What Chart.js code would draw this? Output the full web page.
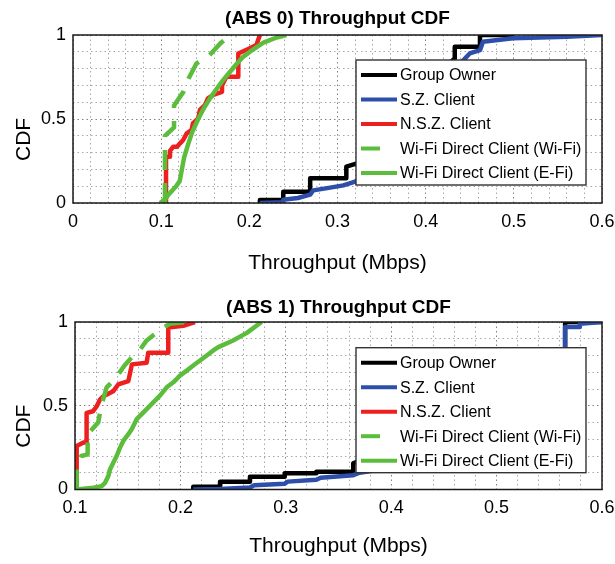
<!DOCTYPE html>
<html><head><meta charset="utf-8">
<script src="https://cdn.jsdelivr.net/npm/chart.js@4.4.1/dist/chart.umd.min.js"></script>
<style>
html,body{margin:0;padding:0;background:#fff;width:615px;height:564px;overflow:hidden}
.panel{position:absolute;left:0;width:615px;height:282px}
</style></head><body>
<div class="panel" style="top:0"><canvas id="c0" width="615" height="282"></canvas></div>
<div class="panel" style="top:282px"><canvas id="c1" width="615" height="282"></canvas></div>
<script>
// ---------- text ----------
const seriesNames = ['Group Owner', 'S.Z. Client', 'N.S.Z. Client', 'Wi-Fi Direct Client (Wi-Fi)', 'Wi-Fi Direct Client (E-Fi)'];
const chartTitles = ['(ABS 0) Throughput CDF', '(ABS 1) Throughput CDF'];
const xAxisLabel = 'Throughput (Mbps)';
const yAxisLabel = 'CDF';
const xTickLabels0 = [0, 0.1, 0.2, 0.3, 0.4, 0.5, 0.6];
const xTickLabels1 = [0.1, 0.2, 0.3, 0.4, 0.5, 0.6];
const yTickLabels = [0, 0.5, 1];

// ---------- ABS 0 data (throughput Mbps, CDF) ----------
const abs0OwnerX = [0.212, 0.212, 0.2385, 0.2385, 0.269, 0.269, 0.310, 0.310, 0.325, 0.340, 0.360, 0.380, 0.400, 0.420, 0.433, 0.433, 0.4616, 0.4616, 0.500];
const abs0OwnerY = [0.000, 0.018, 0.018, 0.067, 0.067, 0.147, 0.147, 0.216, 0.240, 0.330, 0.450, 0.580, 0.700, 0.800, 0.860, 0.930, 0.930, 1.000, 1.000];
const abs0SZX = [0.212, 0.2385, 0.2385, 0.255, 0.269, 0.2725, 0.290, 0.3066, 0.320, 0.340, 0.370, 0.400, 0.420, 0.4446, 0.450, 0.4616, 0.465, 0.499, 0.560, 0.600];
const abs0SZY = [0.000, 0.005, 0.020, 0.030, 0.050, 0.075, 0.090, 0.105, 0.127, 0.200, 0.350, 0.550, 0.720, 0.860, 0.890, 0.910, 0.960, 0.980, 0.990, 1.000];
const abs0NSZX = [0.1055, 0.1055, 0.110, 0.110, 0.1138, 0.118, 0.1214, 0.125, 0.129, 0.1346, 0.136, 0.142, 0.144, 0.1497, 0.153, 0.159, 0.169, 0.169, 0.174, 0.1875, 0.1875, 0.200, 0.208, 0.212];
const abs0NSZY = [0.000, 0.276, 0.276, 0.310, 0.335, 0.335, 0.355, 0.375, 0.415, 0.435, 0.474, 0.504, 0.554, 0.583, 0.623, 0.643, 0.662, 0.700, 0.752, 0.752, 0.890, 0.920, 0.940, 1.000];
const abs0WiFiX = [0.1043, 0.1043, 0.1146, 0.1146, 0.125, 0.128, 0.131, 0.140, 0.148, 0.155, 0.167, 0.172, 0.178, 0.185];
const abs0WiFiY = [0.000, 0.400, 0.450, 0.580, 0.660, 0.700, 0.740, 0.830, 0.860, 0.880, 0.950, 0.970, 0.990, 1.000];
const abs0EFiX = [0.0987, 0.104, 0.110, 0.117, 0.121, 0.1235, 0.126, 0.130, 0.135, 0.142, 0.148, 0.155, 0.163, 0.170, 0.178, 0.186, 0.193, 0.2045, 0.216, 0.231, 0.242];
const abs0EFiY = [0.000, 0.020, 0.060, 0.100, 0.130, 0.200, 0.270, 0.340, 0.420, 0.500, 0.560, 0.620, 0.680, 0.730, 0.780, 0.830, 0.870, 0.915, 0.955, 0.985, 1.000];

// ---------- ABS 1 data ----------
const abs1OwnerX = [0.2122, 0.2122, 0.2376, 0.2376, 0.266, 0.266, 0.299, 0.299, 0.329, 0.329, 0.364, 0.364, 0.380, 0.420, 0.460, 0.500, 0.540, 0.560, 0.565, 0.565, 0.600];
const abs1OwnerY = [0.000, 0.017, 0.017, 0.047, 0.047, 0.076, 0.076, 0.097, 0.097, 0.106, 0.106, 0.156, 0.200, 0.300, 0.420, 0.550, 0.700, 0.800, 0.840, 1.000, 1.000];
const abs1SZX = [0.2122, 0.2376, 0.266, 0.270, 0.299, 0.302, 0.329, 0.333, 0.364, 0.370, 0.385, 0.420, 0.460, 0.500, 0.540, 0.560, 0.565, 0.565, 0.579, 0.579, 0.600];
const abs1SZY = [0.000, 0.003, 0.012, 0.025, 0.035, 0.047, 0.058, 0.070, 0.085, 0.100, 0.115, 0.200, 0.320, 0.450, 0.620, 0.780, 0.840, 0.970, 0.970, 0.990, 1.000];
const abs1NSZX = [0.1016, 0.1016, 0.108, 0.111, 0.111, 0.117, 0.1206, 0.1237, 0.127, 0.1363, 0.141, 0.1506, 0.154, 0.168, 0.1695, 0.1885, 0.1885, 0.2027, 0.2138];
const abs1NSZY = [0.000, 0.260, 0.280, 0.280, 0.457, 0.467, 0.497, 0.537, 0.557, 0.587, 0.627, 0.647, 0.747, 0.757, 0.817, 0.817, 0.967, 0.977, 1.000];
const abs1WiFiX = [0.1016, 0.1016, 0.106, 0.112, 0.112, 0.122, 0.125, 0.130, 0.138, 0.147, 0.154, 0.160, 0.168, 0.176, 0.185, 0.190, 0.205];
const abs1WiFiY = [0.000, 0.150, 0.200, 0.210, 0.330, 0.400, 0.500, 0.610, 0.660, 0.740, 0.790, 0.820, 0.890, 0.930, 0.970, 0.990, 1.000];
const abs1EFiX = [0.1016, 0.1174, 0.1253, 0.1285, 0.1316, 0.1332, 0.1363, 0.1395, 0.1427, 0.1458, 0.1506, 0.1538, 0.1585, 0.1633, 0.168, 0.1743, 0.1806, 0.187, 0.1933, 0.1996, 0.206, 0.2122, 0.2186, 0.225, 0.2312, 0.236, 0.250, 0.263, 0.277];
const abs1EFiY = [0.000, 0.010, 0.020, 0.040, 0.080, 0.120, 0.160, 0.200, 0.250, 0.290, 0.330, 0.360, 0.420, 0.450, 0.480, 0.520, 0.560, 0.610, 0.640, 0.680, 0.710, 0.740, 0.770, 0.800, 0.830, 0.850, 0.890, 0.935, 1.000];

// ---------- styles ----------
const FONT = "Arial, 'Liberation Sans', Helvetica, sans-serif";
const seriesColors = ['#000000', '#2d4fa9', '#ee1f1f', '#5cbd3c', '#5cbd3c'];
const seriesDash = [[], [], [], [20, 13], []];
const seriesOrder = [5, 4, 3, 2, 1];
const NBSP = '\u00A0';

Chart.defaults.font.family = FONT;
Chart.defaults.color = '#000';

const zip = (xs, ys) => xs.map((x, i) => ({x: x, y: ys[i]}));
const isIn = (v, arr) => arr.some(a => Math.abs(a - v) < 1e-6);

const boxLegend = {
  id: 'boxLegend',
  afterDraw(chart, args, opts) {
    const ctx = chart.ctx, a = chart.chartArea;
    ctx.save();
    ctx.setLineDash([]);
    ctx.strokeStyle = '#1a1a1a';
    ctx.lineWidth = 1.5;
    ctx.strokeRect(a.left, a.top, a.right - a.left, a.bottom - a.top);
    const w = 230, h = 125;
    const L = a.right - 16 - w, T = a.top + opts.top;
    ctx.fillStyle = '#fff';
    ctx.fillRect(L, T, w, h);
    ctx.lineWidth = 1.4;
    ctx.strokeStyle = '#333';
    ctx.strokeRect(L, T, w, h);
    chart.data.datasets.forEach((ds, i) => {
      const y = T + 15 + i * 24.5;
      ctx.strokeStyle = ds.borderColor;
      ctx.lineWidth = 4;
      ctx.lineCap = 'butt';
      ctx.beginPath();
      ctx.moveTo(L + 5, y);
      ctx.lineTo(L + ((ds.borderDash && ds.borderDash.length) ? 24 : 41), y);
      ctx.stroke();
      ctx.fillStyle = '#000';
      ctx.font = '16px ' + FONT;
      ctx.textBaseline = 'middle';
      ctx.textAlign = 'left';
      ctx.fillText(ds.label, L + 44, y + 1);
    });
    ctx.restore();
  }
};

function makeChart(id, title, xMin, xMax, xTickLabels, seriesX, seriesY, g) {
  const datasets = seriesNames.map((name, i) => ({
    label: name,
    data: zip(seriesX[i], seriesY[i]),
    borderColor: seriesColors[i],
    backgroundColor: seriesColors[i],
    borderWidth: 4.5,
    borderDash: seriesDash[i],
    borderCapStyle: 'butt',
    borderJoinStyle: 'round',
    pointRadius: 0,
    fill: false,
    tension: 0,
    order: seriesOrder[i]
  }));
  return new Chart(document.getElementById(id), {
    type: 'line',
    data: {datasets: datasets},
    plugins: [boxLegend],
    options: {
      responsive: false,
      animation: false,
      devicePixelRatio: 1,
      layout: {padding: {left: 0, right: 13, top: 0, bottom: 0}},
      plugins: {legend: {display: false}, tooltip: {enabled: false}, boxLegend: {top: g.legendTop}},
      scales: {
        x: {
          type: 'linear', position: 'bottom', min: xMin, max: xMax,
          ticks: {
            stepSize: 0.02, maxTicksLimit: 1000, autoSkip: false, maxRotation: 0, minRotation: 0,
            padding: 8, color: '#000', font: {size: 18},
            callback: (v) => isIn(v, xTickLabels) ? String(Math.round(v * 10) / 10) : ''
          },
          grid: {
            drawTicks: false, lineWidth: 1,
            color: (c) => (c.tick && isIn(c.tick.value, xTickLabels)) ? '#808080' : '#a8a8a8'
          },
          border: {display: false, dash: [1.5, 3]},
          title: {display: true, text: xAxisLabel, font: {size: 21}, color: '#000', padding: {top: 0, bottom: g.xTitlePad}},
          afterFit: (s) => { s.height = 282 - g.bottom; s.paddingRight = 13; s.paddingLeft = 10; }
        },
        x2: {
          type: 'linear', position: 'top', min: 0, max: 1,
          ticks: {display: false},
          grid: {display: false, drawTicks: false},
          border: {display: false},
          title: {display: true, text: title, font: {size: 19, weight: 'bold'}, color: '#000', padding: {top: g.titlePad, bottom: 0}},
          afterFit: (s) => { s.height = g.top; s.paddingRight = 0; s.paddingLeft = 0; }
        },
        y: {
          type: 'linear', position: 'left', min: 0, max: 1,
          ticks: {
            stepSize: 0.1, autoSkip: false, padding: 7, color: '#000', font: {size: 18},
            callback: (v) => isIn(v, yTickLabels) ? String(Math.round(v * 10) / 10) : ''
          },
          grid: {
            drawTicks: false, lineWidth: 1,
            color: (c) => (c.tick && isIn(c.tick.value, yTickLabels)) ? '#808080' : '#a8a8a8'
          },
          border: {display: false, dash: [1.5, 3]},
          title: {display: true, text: yAxisLabel + NBSP.repeat(7), font: {size: 21}, color: '#000', padding: {top: 12, bottom: 0}},
          afterFit: (s) => { s.width = g.left; }
        }
      }
    }
  });
}

makeChart('c0', chartTitles[0], 0, 0.6, xTickLabels0,
  [abs0OwnerX, abs0SZX, abs0NSZX, abs0WiFiX, abs0EFiX],
  [abs0OwnerY, abs0SZY, abs0NSZY, abs0WiFiY, abs0EFiY],
  {left: 73, top: 35, bottom: 203, titlePad: 7, xTitlePad: 6, legendTop: 25});

makeChart('c1', chartTitles[1], 0.1, 0.6, xTickLabels1,
  [abs1OwnerX, abs1SZX, abs1NSZX, abs1WiFiX, abs1EFiX],
  [abs1OwnerY, abs1SZY, abs1NSZY, abs1WiFiY, abs1EFiY],
  {left: 75, top: 40, bottom: 207.5, titlePad: 14, xTitlePad: 5, legendTop: 25.7});
</script>
</body></html>
